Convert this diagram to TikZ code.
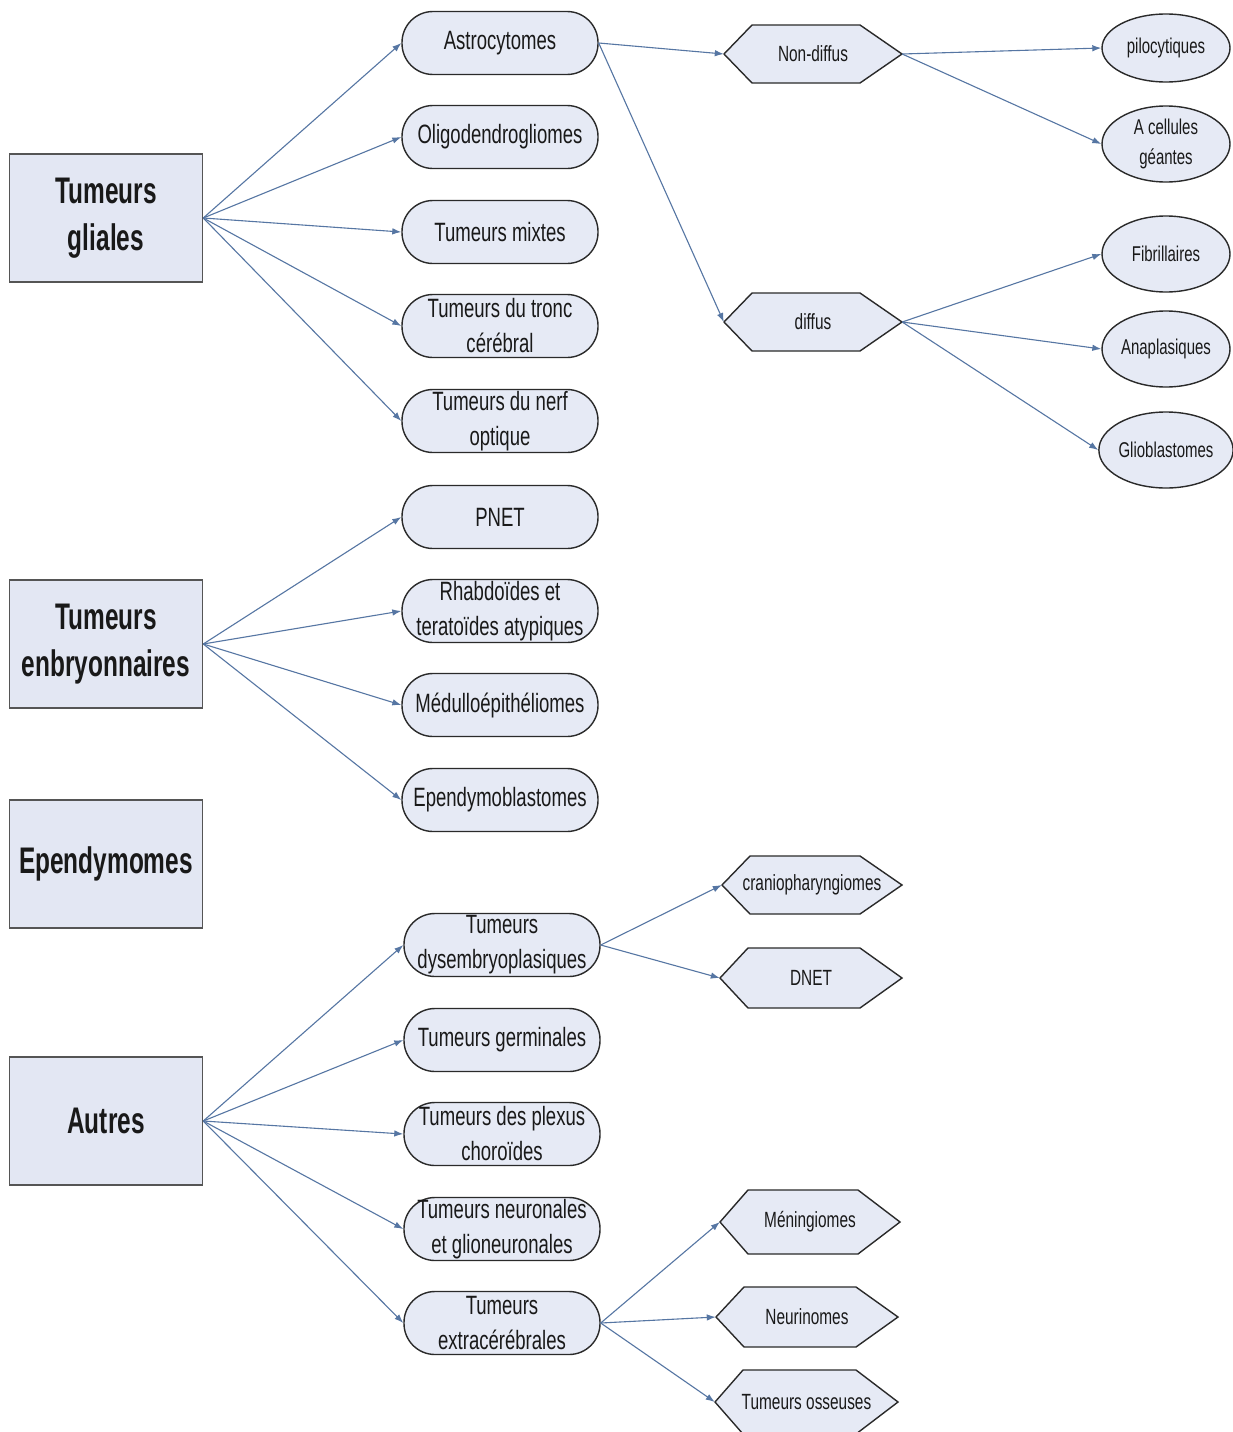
\documentclass[tikz,border=0pt]{standalone}
\usepackage{fontspec}
\setmainfont{Liberation Sans}[FakeStretch=0.70, BoldFeatures={FakeStretch=0.66}]
\usetikzlibrary{arrows.meta,shapes.geometric}
\definecolor{fillc}{HTML}{E6EAF5}
\definecolor{bigfill}{HTML}{E3E7F3}
\definecolor{edgec}{HTML}{2A2A2A}
\definecolor{bigedge}{HTML}{555555}
\definecolor{arrowc}{HTML}{5676A3}
\newcommand\hexa[6]{%
  \draw[hexshape] (#2,#4) -- ({#2+28},{#4-#5}) -- ({#3-42},{#4-#5}) -- (#3,#4) -- ({#3-42},{#4+#5}) -- ({#2+28},{#4+#5}) -- cycle;
  \node[hextext, minimum width={#3-#2}, minimum height={2*#5}] (#1) at ({(#2+#3)/2},#4) {#6};}
\begin{document}
\begin{tikzpicture}[x=1pt,y=-1pt,
  bigbox/.style={draw=bigedge, fill=bigfill, line width=1.5pt, minimum width=193pt, minimum height=128pt, inner sep=0pt, align=center, font=\fontsize{37}{47}\selectfont\bfseries, text=black!90},
  stad/.style={draw=edgec, fill=fillc, line width=1.4pt, rounded corners=31pt, minimum width=196pt, minimum height=63pt, inner sep=0pt, align=center, font=\fontsize{26.5}{35}\selectfont, text=black!90},
  hexshape/.style={draw=edgec, fill=fillc, line width=1.4pt},
  hextext/.style={inner sep=0pt, align=center, font=\fontsize{22}{28}\selectfont, text=black!90},
  ell/.style={ellipse, draw=edgec, fill=fillc, line width=1.4pt, minimum width=128pt, minimum height=76pt, inner sep=0pt, align=center, font=\fontsize{21.4}{30}\selectfont, text=black!90},
  arr/.style={draw=arrowc, line width=1.1pt, -{Latex[length=9pt,width=6.5pt]}}]
\useasboundingbox (0,0) rectangle (1233,1432);
\fill[white] (0,0) rectangle (1233,1432);
% left boxes
\node[bigbox] (gli) at (106,218) {Tumeurs\\gliales};
\node[bigbox] (emb) at (106,644) {Tumeurs\\enbryonnaires};
\node[bigbox] (epe) at (106,864) {Ependymomes};
\node[bigbox] (aut) at (106,1121) {Autres};
% stadiums
\node[stad] (ast) at (500,43) {Astrocytomes};
\node[stad] (oli) at (500,137) {Oligodendrogliomes};
\node[stad] (mix) at (500,232) {Tumeurs mixtes};
\node[stad] (tro) at (500,326) {Tumeurs du tronc\\cérébral};
\node[stad] (ner) at (500,421) {Tumeurs du nerf\\optique};
\node[stad] (pne) at (500,517) {PNET};
\node[stad] (rha) at (500,611) {Rhabdoïdes et\\teratoïdes atypiques};
\node[stad] (med) at (500,705) {Médulloépithéliomes};
\node[stad] (epb) at (500,800) {Ependymoblastomes};
\node[stad] (dys) at (502,945) {Tumeurs\\dysembryoplasiques};
\node[stad] (ger) at (502,1040) {Tumeurs germinales};
\node[stad] (ple) at (502,1134) {Tumeurs des plexus\\choroïdes};
\node[stad] (neu) at (502,1229) {Tumeurs neuronales\\et glioneuronales};
\node[stad] (ext) at (502,1323) {Tumeurs\\extracérébrales};
% hexagons
\hexa{ndif}{724}{902}{54}{29}{Non-diffus}
\hexa{dif}{724}{902}{322}{29}{diffus}
\hexa{cra}{722}{902}{885}{29}{craniopharyngiomes}
\hexa{dnet}{720}{902}{978}{30}{DNET}
\hexa{men}{720}{900}{1222}{32}{Méningiomes}
\hexa{neur}{716}{898}{1317}{30}{Neurinomes}
\hexa{oss}{715}{898}{1402}{32}{Tumeurs osseuses}
% ellipses
\node[ell, minimum height=68pt] (pil) at (1166,48) {pilocytiques};
\node[ell, minimum height=76pt] (gea) at (1166,144) {A cellules\\géantes};
\node[ell] (fib) at (1166,254) {Fibrillaires};
\node[ell] (ana) at (1166,349) {Anaplasiques};
\node[ell] (gbl) at (1166,450) {Glioblastomes};
% connectors
\foreach \t in {ast,oli,mix,tro,ner} \draw[arr] (gli.east) -- (\t.west);
\foreach \t in {pne,rha,med,epb} \draw[arr] (emb.east) -- (\t.west);
\foreach \t in {dys,ger,ple,neu,ext} \draw[arr] (aut.east) -- (\t.west);
\draw[arr] (ast.east) -- (ndif.west);
\draw[arr] (ast.east) -- (dif.west);
\draw[arr] (ndif.east) -- (pil.west);
\draw[arr] (ndif.east) -- (gea.west);
\foreach \t in {fib,ana,gbl} \draw[arr] (dif.east) -- (\t.west);
\draw[arr] (dys.east) -- (cra.west);
\draw[arr] (dys.east) -- (dnet.west);
\foreach \t in {men,neur,oss} \draw[arr] (ext.east) -- (\t.west);
\end{tikzpicture}
\end{document}
